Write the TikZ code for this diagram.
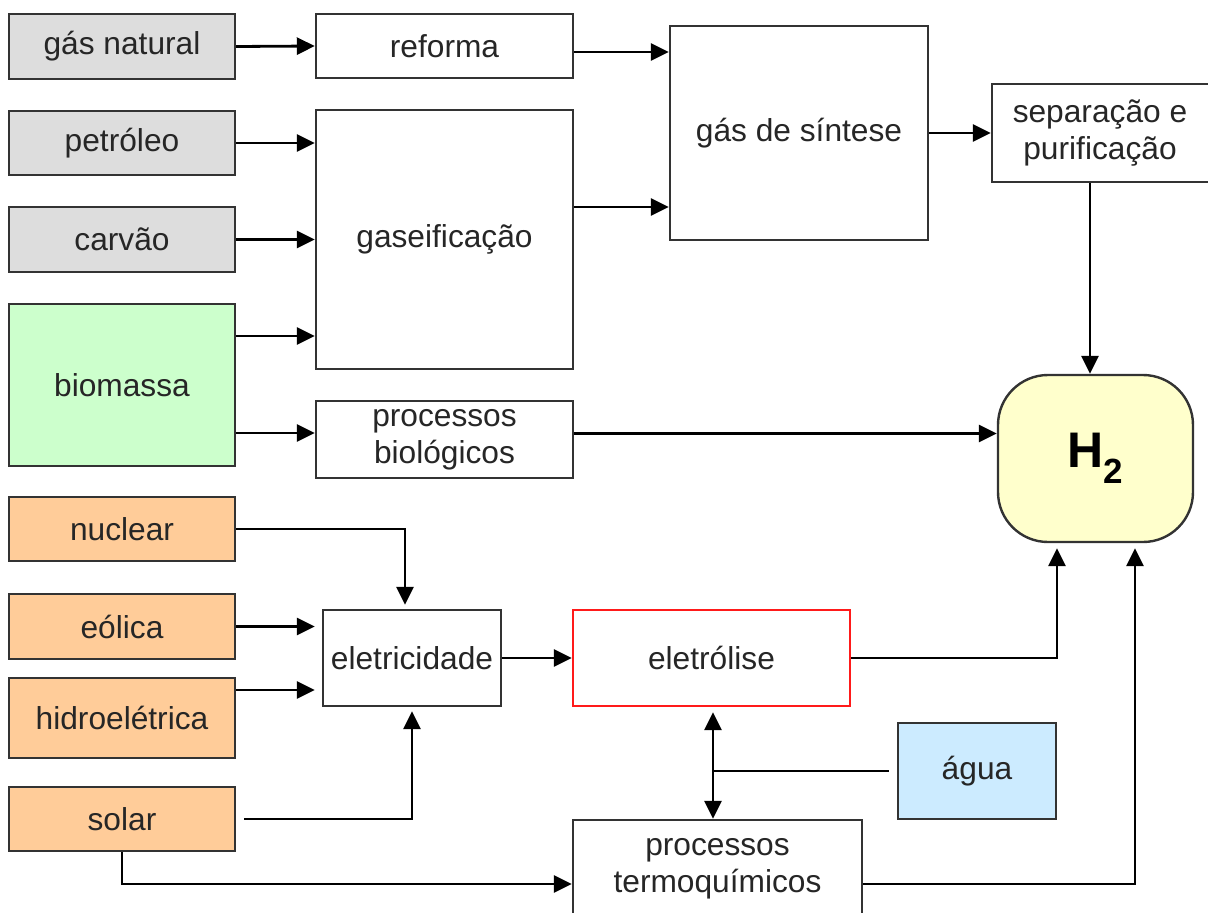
\documentclass[tikz,border=0pt]{standalone}
\usepackage{fontspec}
\setmainfont{Liberation Sans}
\usetikzlibrary{arrows.meta}
\definecolor{cgray}{HTML}{DDDDDD}
\definecolor{cgreen}{HTML}{CCFFCC}
\definecolor{corange}{HTML}{FFCC99}
\definecolor{cblue}{HTML}{CCEBFF}
\definecolor{cyellow}{HTML}{FFFFCC}
\definecolor{cred}{HTML}{FF1A1A}
\definecolor{cline}{HTML}{333333}
\begin{document}
\begin{tikzpicture}[x=1pt,y=-1pt,
  bx/.style={draw=cline, line width=2.4pt, rectangle, inner sep=0pt, align=center,
    font=\fontsize{31.7}{37}\selectfont, text=black!85},
  src/.style={bx, minimum width=226pt},
  arr/.style={line width=2.8pt, -{Triangle[length=18pt,width=17pt]}},
  darr/.style={line width=2.8pt, {Triangle[length=18pt,width=17pt]}-{Triangle[length=18pt,width=17pt]}},
  ln/.style={line width=2.8pt}
]
\useasboundingbox (0,0) rectangle (1208,913);
% sources
\node[src, fill=cgray, minimum height=65pt] (gn) at (122,46.5) {gás natural};
\node[src, fill=cgray, minimum height=64pt] (pet) at (122,143) {petróleo};
\node[src, fill=cgray, minimum height=65pt] (car) at (122,239.5) {carvão};
\node[src, fill=cgreen, minimum height=162pt] (bio) at (122,385) {biomassa};
\node[src, fill=corange, minimum height=64pt] (nuc) at (122,529) {nuclear};
\node[src, fill=corange, minimum height=65pt] (eol) at (122,626.5) {eólica};
\node[src, fill=corange, minimum height=80pt] (hid) at (122,718) {hidroelétrica};
\node[src, fill=corange, minimum height=64pt] (sol) at (122,819) {solar};
% processes
\node[bx, fill=white, minimum width=257pt, minimum height=64pt] (ref) at (444.5,46) {reforma};
\node[bx, fill=white, minimum width=257pt, minimum height=259pt] (gas) at (444.5,239.5) {gaseificação};
\node[bx, fill=white, minimum width=257pt, minimum height=77pt] (pb) at (444.5,439.5) {processos\\biológicos};
\node[bx, fill=white, minimum width=258pt, minimum height=214pt] (gs) at (799,133) {gás de síntese};
\node[bx, fill=white, minimum width=222pt, minimum height=98pt] (sep) at (1103,133) {\hspace*{-6pt}separação e\\\hspace*{-6pt}purificação};
\node[bx, fill=cyellow, rounded corners=50pt, minimum width=195pt, minimum height=167pt,
  font=\fontsize{50}{60}\selectfont\bfseries, text=black] (h2) at (1095.5,458.5) {H\textsubscript{2}};
\node[bx, fill=white, minimum width=178pt, minimum height=96pt] (ele) at (412,658) {eletricidade};
\node[bx, draw=cred, fill=white, minimum width=277pt, minimum height=96pt] (elt) at (711.5,658) {eletrólise};
\node[bx, fill=cblue, minimum width=158pt, minimum height=96pt] (agu) at (977,771) {água};
\node[bx, fill=white, minimum width=289pt, minimum height=98pt] (ter) at (717.5,869) {processos\\termoquímicos};
\coordinate (j) at (713,771);
% connectors
\draw[arr] (gn.east) -- (ref.west);
\draw[arr] ([yshift=-6pt]ref.east) -- ([yshift=-6pt]ref.east -| gs.west);
\draw[arr] (pet.east) -- (pet.east -| gas.west);
\draw[arr] (car.east) -- (car.east -| gas.west);
\draw[arr] ([yshift=49pt]bio.east) -- ([yshift=49pt]bio.east -| gas.west);
\draw[arr] ([yshift=32.5pt]gas.east) -- ([yshift=32.5pt]gas.east -| gs.west);
\draw[arr] (gs.east) -- (gs.east -| sep.west);
\draw[arr] ([xshift=-13pt]sep.south) -- ([xshift=-13pt]sep.south |- h2.north);
\draw[arr] ([yshift=-48pt]bio.east) -- ([yshift=-48pt]bio.east -| pb.west);
\draw[arr] ([yshift=6pt]pb.east) -- ([yshift=6pt]pb.east -| h2.west);
\draw[arr, shorten >=4pt] (nuc.east) -| ([xshift=-7pt]ele.north);
\draw[arr, shorten >=7pt] (eol.east) -- (eol.east -| ele.west);
\draw[arr, shorten >=7pt] ([yshift=28pt]hid.east) -- ([yshift=28pt]hid.east -| ele.west);
\draw[arr, shorten >=4pt, shorten <=8pt] (sol.east) -| (ele.south);
\draw[arr] (ele.east) -- (elt.west);
\draw[arr, shorten >=5pt] (elt.east) -| ([xshift=-38.5pt]h2.south);
\draw[arr] (sol.south) |- ([yshift=-15pt]ter.west);
\draw[arr, shorten >=5pt] ([yshift=-15pt]ter.east) -| ([xshift=39.5pt]h2.south);
\draw[ln, shorten <=8pt] (agu.west) -- (j);
\draw[darr, shorten <=5pt]
  ([xshift=1.5pt]elt.south) -- ([xshift=1.5pt]elt.south |- ter.north);
\end{tikzpicture}
\end{document}
